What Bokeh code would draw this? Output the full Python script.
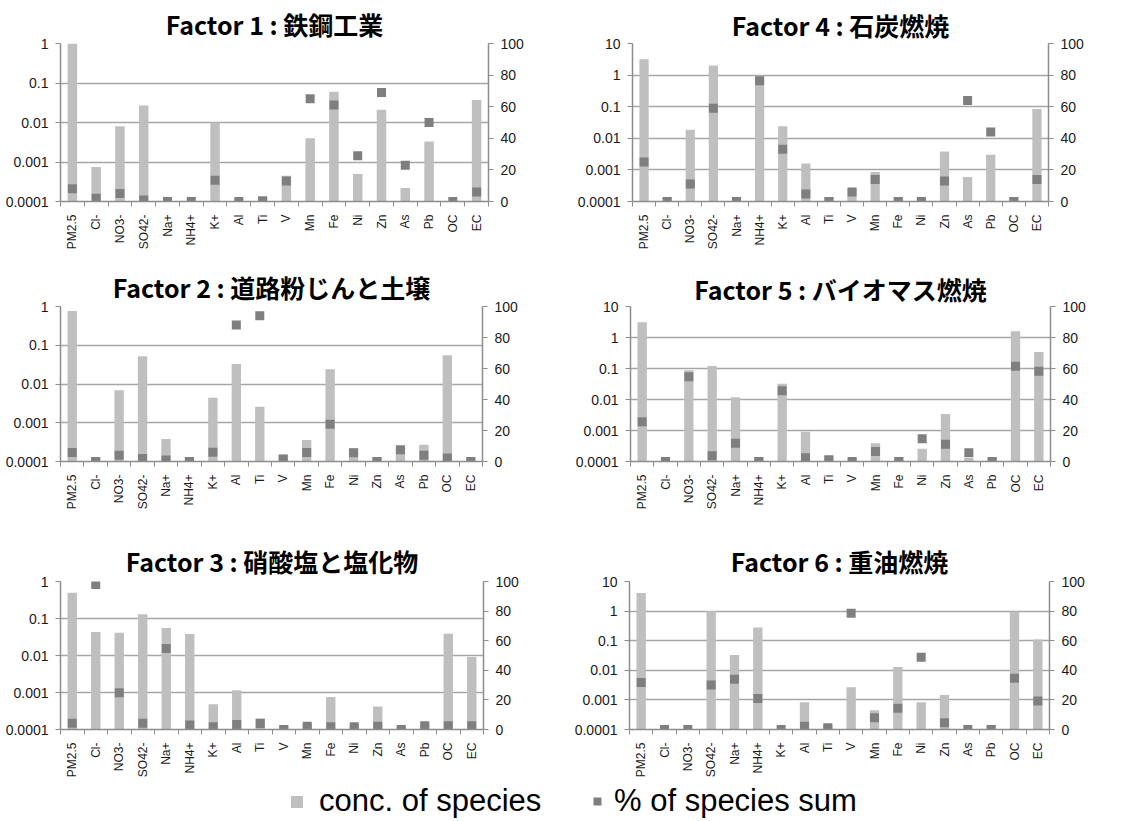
import math
from bokeh.plotting import figure
from bokeh.models import (Range1d, LinearAxis, LinearScale, FixedTicker, CustomJSTickFormatter,
                          ColumnDataSource, Legend, LegendItem)
from bokeh.layouts import column, row
from bokeh.embed import file_html
from bokeh.resources import INLINE

species = ["PM2.5", "Cl-", "NO3-", "SO42-", "Na+", "NH4+", "K+", "Al", "Ti", "V",
           "Mn", "Fe", "Ni", "Zn", "As", "Pb", "OC", "EC"]

titles = ["Factor 1 : 鉄鋼工業", "Factor 2 : 道路粉じんと土壌", "Factor 3 : 硝酸塩と塩化物",
          "Factor 4 : 石炭燃焼", "Factor 5 : バイオマス燃焼", "Factor 6 : 重油燃焼"]

# concentration of species (left, log axis)
conc_f1 = [1.0, 0.00075, 0.008, 0.027, 0, 0, 0.010, 0, 0.00013, 0.00045, 0.004, 0.060,
           0.0005, 0.021, 0.00022, 0.0033, 0, 0.037]
conc_f2 = [0.77, 0.00013, 0.0069, 0.052, 0.00038, 0.00013, 0.0044, 0.033, 0.0026, 0.00015,
           0.00036, 0.024, 0.00022, 0.00013, 0.00024, 0.00027, 0.055, 0.00013]
conc_f3 = [0.5, 0.043, 0.041, 0.13, 0.055, 0.038, 0.00048, 0.00115, 0.0002, 0.00013,
           0.00014, 0.00075, 0.00013, 0.00042, 0.00013, 0.00014, 0.039, 0.0091]
conc_f4 = [3.2, 0.00014, 0.0186, 2.0, 0.00014, 0.95, 0.024, 0.0016, 0.00014, 0.00026,
           0.00086, 0.00014, 0.00014, 0.0038, 0.0006, 0.0030, 0.00014, 0.085]
conc_f5 = [3.1, 0.00014, 0.087, 0.12, 0.0118, 0.00014, 0.032, 0.00091, 0.00015, 0.00013,
           0.00039, 0.00014, 0.00026, 0.0034, 0.00013, 0.00014, 1.6, 0.34]
conc_f6 = [4.1, 0, 0, 1.0, 0.033, 0.28, 0, 0.00083, 0.00015, 0.0027, 0.00045, 0.013,
           0.00083, 0.00146, 0, 0.00014, 0.95, 0.11]

# % of species sum (right, linear axis)
pct_f1 = [8, 2, 5, 1, 0, 0, 13.5, 0, 0.5, 13, 65, 61, 29, 69, 23, 50, 0, 6]
pct_f2 = [5.8, 0, 4, 2, 1, 0, 6, 88, 94, 1.6, 5.8, 24, 5.6, 0, 7.6, 4, 2.3, 0]
pct_f3 = [4.2, 98, 24.9, 4.2, 54.7, 3.1, 1.8, 3.3, 4, 0, 2.2, 1.8, 1.8, 2.2, 0, 2.6, 2.6, 2.6]
pct_f4 = [25, 0, 11, 59, 0, 76.5, 33, 4.7, 0, 6, 14, 0, 0, 13, 64, 44, 0, 14]
pct_f5 = [25.7, 0, 54.7, 3.7, 11.8, 0, 45.7, 2.4, 1.2, 0, 6.5, 0, 14.7, 11.2, 5.7, 0, 61.4, 58.2]
pct_f6 = [31.8, 0, 0, 30, 34, 21, 0, 2.2, 1.1, 78.5, 7.9, 14.3, 48.9, 4.6, 0, 0, 34.6, 19.3]

legend_labels = ["conc. of species", "% of species sum"]

BAR = "#bfbfbf"
SQ = "#7f7f7f"
AX = "#8c8c8c"
GRID = "#a6a6a6"
TXT = "#1a1a1a"
FONT = "Liberation Sans"


def panel(title, conc, pct, ymax, width, height, bl, br, bt, bb, tstand):
    n = len(species)
    p = figure(width=width, height=height, y_axis_type="log",
               x_range=Range1d(0, n), y_range=Range1d(1e-4, ymax),
               output_backend="svg", toolbar_location=None,
               min_border_left=bl, min_border_right=br, min_border_top=bt, min_border_bottom=bb,
               title=title)
    p.title.text_font = "Noto Sans CJK JP"
    p.title.text_font_size = "25px"
    p.title.text_font_style = "bold"
    p.title.align = "center"
    p.title.text_color = "#000000"
    p.title.standoff = tstand
    p.outline_line_color = None
    p.background_fill_color = "white"

    xs = [i + 0.5 for i in range(n) if conc[i] > 0]
    tops = [conc[i] for i in range(n) if conc[i] > 0]
    p.vbar(x=xs, top=tops, bottom=1e-4, width=0.4, fill_color=BAR, line_color=None)

    p.extra_y_ranges = {"pct": Range1d(0, 100)}
    p.extra_y_scales = {"pct": LinearScale()}
    p.scatter(x=[i + 0.5 for i in range(n)], y=pct, marker="square", size=9,
              fill_color=SQ, line_color=None, y_range_name="pct")

    decades = [1e-4, 1e-3, 1e-2, 1e-1, 1, 10]
    decades = [d for d in decades if d <= ymax * 1.0001]
    yt = FixedTicker(ticks=decades, minor_ticks=[])
    p.yaxis.ticker = yt
    p.yaxis.formatter = CustomJSTickFormatter(code="return tick.toString();")
    p.ygrid.ticker = yt
    p.ygrid.grid_line_color = GRID
    p.ygrid.grid_line_width = 1.5
    p.xgrid.visible = False

    ax2 = LinearAxis(y_range_name="pct", ticker=FixedTicker(ticks=[0, 20, 40, 60, 80, 100], minor_ticks=[]))
    p.add_layout(ax2, "right")

    xt = FixedTicker(ticks=[i + 0.5 for i in range(n)], minor_ticks=list(range(n + 1)))
    p.xaxis.ticker = xt
    p.xaxis.formatter = CustomJSTickFormatter(args=dict(names=species),
                                              code="return names[Math.floor(tick)];")
    p.xaxis.major_label_orientation = math.pi / 2
    p.xaxis.major_tick_line_color = None
    p.xaxis.major_tick_out = 5
    p.xaxis.minor_tick_line_color = AX
    p.xaxis.minor_tick_out = 5
    p.xaxis.minor_tick_in = 0
    p.xaxis.major_label_text_font_size = "12px"
    p.xaxis.major_label_standoff = 8

    for a in [p.yaxis[0], ax2, p.xaxis[0]]:
        a.axis_line_color = AX
        a.axis_line_width = 1.5
        a.major_label_text_font = FONT
        a.major_label_text_color = TXT
    for a in [p.yaxis[0], ax2]:
        a.major_tick_line_color = AX
        a.major_tick_out = 5
        a.major_tick_in = 0
        a.minor_tick_line_color = None
        a.major_label_text_font_size = "14px"
        a.major_label_standoff = 7
    return p


f1 = panel(titles[0], conc_f1, pct_f1, 1, 560, 265, 60, 72, 43, 64, 3)
f4 = panel(titles[3], conc_f4, pct_f4, 10, 556, 265, 72, 68, 43, 64, 1)
f2 = panel(titles[1], conc_f2, pct_f2, 1, 560, 270, 60, 78, 39, 69, 3)
f5 = panel(titles[4], conc_f5, pct_f5, 10, 556, 270, 70, 66, 35, 74, 0)
f3 = panel(titles[2], conc_f3, pct_f3, 1, 560, 247, 60, 77, 46, 50, 6)
f6 = panel(titles[5], conc_f6, pct_f6, 10, 556, 247, 69, 67, 42, 53, 6)

# legend strip
lg = figure(width=1116, height=38, output_backend="svg", toolbar_location=None,
            x_range=Range1d(0, 1), y_range=Range1d(0, 1),
            min_border_left=0, min_border_right=0, min_border_top=0, min_border_bottom=0)
lg.axis.visible = False
lg.grid.visible = False
lg.outline_line_color = None
offscreen = ColumnDataSource(data=dict(x=[-10.0], y=[-10.0]))
r_bar = lg.rect(x="x", y="y", width=0.1, height=0.1, source=offscreen, fill_color=BAR, line_color=None)
r_sq = lg.rect(x="x", y="y", width=0.1, height=0.1, source=offscreen, fill_color=SQ, line_color=None)

common = dict(label_text_font="Liberation Sans", label_text_font_size="31px", label_text_color="#000",
              border_line_color=None, background_fill_alpha=0, padding=0, margin=0,
              label_height=10)
leg1 = Legend(items=[LegendItem(label=legend_labels[0], renderers=[r_bar])],
              location=(289, 1), glyph_width=15, glyph_height=15, label_standoff=15, **common)
leg2 = Legend(items=[LegendItem(label=legend_labels[1], renderers=[r_sq])],
              location=(592, 1), glyph_width=10, glyph_height=10, label_standoff=12, **common)
lg.add_layout(leg1, "center")
lg.add_layout(leg2, "center")

page = column(row(f1, f4), row(f2, f5), row(f3, f6), lg)
open("out.html", "w").write(file_html(page, INLINE))
